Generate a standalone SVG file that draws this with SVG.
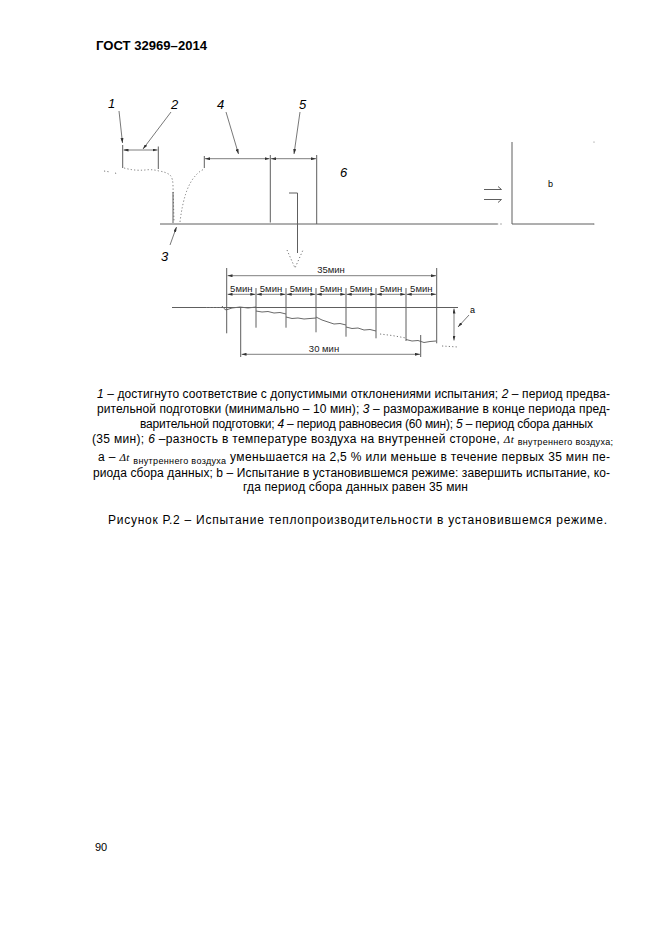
<svg xmlns="http://www.w3.org/2000/svg" width="661" height="936" viewBox="0 0 661 936">
<style>
.t{font-family:"Liberation Sans",Arial,sans-serif;fill:#000}
.ln{stroke:#5e5e5e;stroke-width:1;fill:none}
.dim{stroke:#5e5e5e;stroke-width:0.8;fill:none;marker-start:url(#ar);marker-end:url(#ar)}
.ldr{stroke:#555;stroke-width:0.8;fill:none;marker-end:url(#ar)}
.dot{stroke:#777;stroke-width:1;fill:none;stroke-dasharray:1.2 2.2}
.dat{stroke:#6a6a6a;stroke-width:1;fill:none}
.lbl{font-family:"Liberation Sans",Arial,sans-serif;font-style:italic;font-size:13px;fill:#000}
.sm{font-family:"Liberation Sans",Arial,sans-serif;font-size:9.5px;fill:#222}
.lg{font-family:"Liberation Sans",Arial,sans-serif;font-size:12px;fill:#000}
</style>
<defs>
<marker id="ar" viewBox="0 0 10 6" refX="10" refY="3" markerWidth="5" markerHeight="3" markerUnits="userSpaceOnUse" orient="auto-start-reverse">
<path d="M0,0 L10,3 L0,6 Z" fill="#333"/>
</marker>
</defs>
<rect width="661" height="936" fill="#fff"/>

<g id="header">
<text class="t" x="96" y="50" font-size="12" font-weight="bold" textLength="111" lengthAdjust="spacingAndGlyphs">ГОСТ 32969–2014</text>
</g>

<g id="top-diagram">
<line class="ln" x1="160" y1="224" x2="497" y2="224"/>
<line class="dot" x1="497" y1="224" x2="503" y2="224"/>
<path class="dot" d="M104,171 L110,172 M115,173 L118,174 M124,168 Q135,171 145,170 Q152,169 159,171 Q166,172 170,175 Q173,178 173,186 L174,222"/>
<path class="dot" d="M180,222 Q182,205 186,193 Q190,181 197,174 Q201,170 205,169"/>
<line class="ln" x1="173" y1="192" x2="173" y2="223"/>
<line class="ln" x1="122.7" y1="145" x2="122.7" y2="168"/>
<line class="ln" x1="158.3" y1="146.5" x2="158.3" y2="169"/>
<line class="dim" x1="123.5" y1="150" x2="157.5" y2="150"/>
<line class="ln" x1="204.3" y1="156" x2="204.3" y2="168"/>
<line class="ln" x1="270.3" y1="155" x2="270.3" y2="222.5"/>
<line class="ln" x1="316.7" y1="155" x2="316.7" y2="224"/>
<line class="dim" x1="205" y1="158.7" x2="269.5" y2="158.7"/>
<line class="dim" x1="271" y1="158.7" x2="316" y2="158.7"/>
<path class="ln" d="M289,193 L297.5,193 L297.5,253"/>
<path class="dot" d="M287,250 L295,268 L303,250"/>
<text class="lbl" x="108" y="108">1</text>
<text class="lbl" x="171" y="109">2</text>
<text class="lbl" x="217" y="109">4</text>
<text class="lbl" x="299" y="109">5</text>
<text class="lbl" x="340" y="177">6</text>
<text class="lbl" x="161" y="261">3</text>
<line class="ldr" x1="119" y1="111" x2="122.5" y2="143"/>
<line class="ldr" x1="171" y1="112" x2="143" y2="149"/>
<line class="ldr" x1="226" y1="112" x2="238.5" y2="154"/>
<line class="ldr" x1="300" y1="112" x2="294" y2="154"/>
<line class="ldr" x1="170" y1="245" x2="176.5" y2="227"/>
<path class="ln" d="M484,189.5 L501.5,189.5 L498,186.5"/>
<path class="ln" d="M484,199.5 L501.5,199.5 L498,202.5"/>
<path class="ln" d="M512,142 L512,224 L594,224"/>
<circle cx="594" cy="142" r="0.6" fill="#777"/>
<circle cx="594" cy="224" r="0.6" fill="#777"/>
<text class="t" x="548" y="187" font-size="9">b</text>
</g>

<g id="bottom-chart">
<line class="ln" x1="172" y1="307.5" x2="458" y2="307.5" stroke="#888"/>
<path class="dot" d="M206,307.5 L221,307.5"/>
<path class="dat" d="M222,306 Q224,309 226,310 L232,308 L240,307 L248,308 L256,307"/>
<path class="dat" d="M256,311 L262,312 L268,311.5 L274,313 L280,312.5 L286,314"/>
<path class="dat" d="M286,317 L292,318.5 L298,318 L304,319 L310,318.5 L316,318"/>
<path class="dat" d="M316,317 L322,320 L328,322 L334,324 L340,323.5 L346,325"/>
<path class="dat" d="M346,327 L352,328.5 L358,328 L364,330 L370,329.5 L376,331"/>
<path class="dot" d="M380,334 L392,335.5 L406,338" stroke-dasharray="3 2"/>
<path class="dat" d="M406,339.5 L412,341 L418,340.5 L424,342.5 L430,341.5 L436,341"/>
<path class="dot" d="M442,346 L458,347" stroke-dasharray="3 3"/>

<line class="ln" x1="226.7" y1="268" x2="226.7" y2="333.3"/>
<line class="ln" x1="256" y1="288" x2="256" y2="327.7"/>
<line class="ln" x1="286" y1="288" x2="286" y2="327.7"/>
<line class="ln" x1="316" y1="288" x2="316" y2="332.3"/>
<line class="ln" x1="346" y1="288" x2="346" y2="336.7"/>
<line class="ln" x1="376" y1="288" x2="376" y2="338.3"/>
<line class="ln" x1="406" y1="288" x2="406" y2="341"/>
<line class="ln" x1="436.7" y1="268" x2="436.7" y2="343.3"/>
<line class="ln" x1="240.7" y1="307.5" x2="240.7" y2="357"/>
<line class="ln" x1="420.7" y1="335" x2="420.7" y2="357"/>

<line class="dim" x1="227.5" y1="275.7" x2="436" y2="275.7"/>
<line class="dim" x1="227.5" y1="294.3" x2="255.3" y2="294.3"/>
<line class="dim" x1="256.7" y1="294.3" x2="285.3" y2="294.3"/>
<line class="dim" x1="286.7" y1="294.3" x2="315.3" y2="294.3"/>
<line class="dim" x1="316.7" y1="294.3" x2="345.3" y2="294.3"/>
<line class="dim" x1="346.7" y1="294.3" x2="375.3" y2="294.3"/>
<line class="dim" x1="376.7" y1="294.3" x2="405.3" y2="294.3"/>
<line class="dim" x1="406.7" y1="294.3" x2="436" y2="294.3"/>
<line class="dim" x1="241.5" y1="354.3" x2="420" y2="354.3"/>
<line class="dim" x1="454" y1="308.5" x2="454" y2="340.5"/>

<g class="sm" text-anchor="middle">
<text x="331" y="273">35мин</text>
<text x="241.3" y="291.5">5мин</text>
<text x="271" y="291.5">5мин</text>
<text x="301" y="291.5">5мин</text>
<text x="331" y="291.5">5мин</text>
<text x="361" y="291.5">5мин</text>
<text x="391" y="291.5">5мин</text>
<text x="421.3" y="291.5">5мин</text>
<text x="324" y="352">30 мин</text>
</g>
<text class="t" x="470" y="313" font-size="9">a</text>
<line class="ldr" x1="469" y1="315" x2="458" y2="327"/>
</g>

<g id="legend" class="lg">
<text x="97" y="398" textLength="513" lengthAdjust="spacing"><tspan font-style="italic">1</tspan> – достигнуто соответствие с допустимыми отклонениями испытания; <tspan font-style="italic">2</tspan> – период предва-</text>
<text x="97" y="413" textLength="513" lengthAdjust="spacing">рительной подготовки (минимально – 10 мин); <tspan font-style="italic">3</tspan> – размораживание в конце периода пред-</text>
<text x="140" y="428" textLength="453" lengthAdjust="spacing">варительной подготовки; <tspan font-style="italic">4</tspan> – период равновесия (60 мин); <tspan font-style="italic">5</tspan> – период сбора данных</text>
<text x="92" y="443" textLength="521" lengthAdjust="spacing">(35 мин); <tspan font-style="italic">6</tspan> –разность в температуре воздуха на внутренней стороне, <tspan font-family="Liberation Serif, serif" font-style="italic" font-size="11">Δt</tspan> <tspan font-size="9" dy="2">внутреннего воздуха;</tspan></text>
<text x="98" y="461" textLength="512" lengthAdjust="spacing">а – <tspan font-family="Liberation Serif, serif" font-style="italic" font-size="11">Δt</tspan> <tspan font-size="9" dy="3">внутреннего воздуха</tspan> <tspan dy="-3">уменьшается на 2,5 % или меньше в течение первых 35 мин пе-</tspan></text>
<text x="93" y="477" textLength="517" lengthAdjust="spacing">риода сбора данных; b – Испытание в установившемся режиме: завершить испытание, ко-</text>
<text x="243" y="491" textLength="225" lengthAdjust="spacing">гда период сбора данных равен 35 мин</text>
</g>

<g id="caption">
<text class="t" x="108" y="524" font-size="12" textLength="499" lengthAdjust="spacing">Рисунок Р.2 – Испытание теплопроизводительности в установившемся режиме.</text>
</g>

<g id="page-number">
<text class="t" x="95" y="851" font-size="11">90</text>
</g>
</svg>
